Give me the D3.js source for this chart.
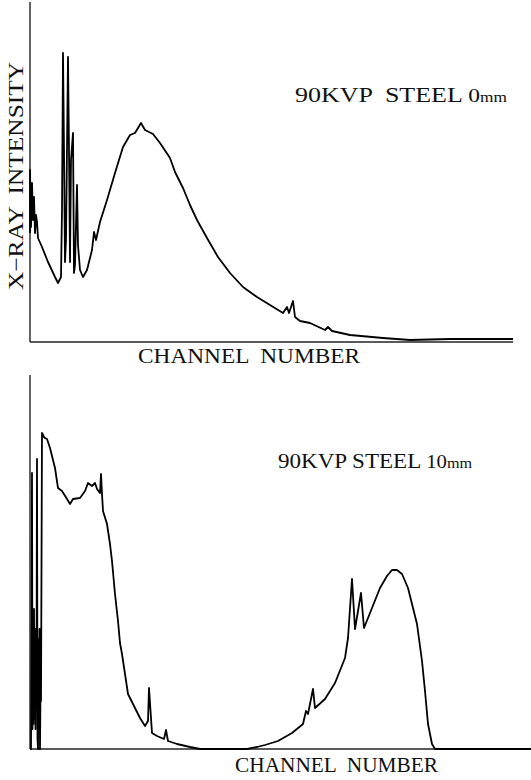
<!DOCTYPE html>
<html>
<head>
<meta charset="utf-8">
<script src="https://cdn.jsdelivr.net/npm/d3@7"></script>
<style>
  body { margin: 0; background: #fff; }
  svg { display: block; }
  text { font-family: "Liberation Serif", "DejaVu Serif", serif; fill: #111; white-space: pre; }
</style>
</head>
<body>
<script>
///////////////////   Data   /////////////////

// spectrum 1 : 90 kVp, no steel filter  (channel, intensity)
var channels0mm = [0,0,1,2,3,4,5,6,7,8,12,18,25,28,31,32,33,34,35,36,38,39,40,41,43,44,45,47,48,50,53,57,62,64,66,70,77,85,93,100,105,111,115,123,130,140,145,153,160,167,177,188,200,213,227,240,253,257,259,263,265,270,280,295,298,302,320,353,380,420,483];
var counts0mm   = [109,172,115,159,122,145,109,127,120,104,95,80,65,59,65,132,289,192,80,102,285,192,80,182,209,69,77,157,97,72,65,72,92,110,102,120,142,169,195,207,209,219,212,208,199,184,170,154,137,122,104,85,69,55,45,37,29,35,29,41,25,21,19,12,15,11,7,4,2,3,3];

// spectrum 2 : 90 kVp, 10 mm steel (dense pile-up spikes at the low channels)
var channels10mm = [0,1,2,2.5,3,3.5,4,4.5,5,5.5,6,6.5,7,7.5,8,8.5,9,9.5,10,10.5,11,12,14,15,17,20,25,28,32,37,40,43,50,55,58,62,65,67,70,71,72,73,77,80,82,85,88,90,92,95,98,103,110,115,118,119,122,127,134,136,138,147,160,170,203,217,227,235,248,262,273,276,278,283,285,295,305,315,318,322,325,331,334,342,350,357,362,367,372,378,387,392,395,398,402,405,435,501];
var counts10mm   = [0,0,276,20,130,25,140,30,120,20,108,60,290,10,0,110,30,120,0,60,48,316,312,311,310,301,281,261,258,250,245,250,251,258,266,263,266,260,256,275,255,238,225,205,188,155,128,106,95,75,55,45,31,23,28,61,16,13,10,19,8,5,2,0,0,0,2,4,8,16,25,38,35,60,41,50,66,91,111,170,120,156,121,141,161,173,179,179,175,161,125,88,58,25,5,0,0,0];

var yLabel = "X\u2212RAY  INTENSITY",
    xLabel = "CHANNEL  NUMBER";

var titles = [["90KVP  STEEL ", "0", "mm"], ["90KVP STEEL ", "10", "mm"]];


///////////////////   Layout   /////////////////

var width = 531, height = 780;

// one entry per panel : axis origin, axis ends, label positions
var panels = [
	{ x0:30, x1:513, yBase:342, yTop:2,   maxCh:483, maxI:340,
	  ch:channels0mm, val:counts0mm,
	  xLab:[138,363,222], title:[295,102,212,[21,19,14]] },
	{ x0:30, x1:531, yBase:749, yTop:375, maxCh:501, maxI:374,
	  ch:channels10mm, val:counts10mm,
	  xLab:[235,772,203], title:[278,468,194,[20,18,14]] }
];


////////////////	Main rendering      //////////////

var svg = d3.select("body").append("svg")
	.attr("width", width)
	.attr("height", height);

panels.forEach(function(p, k){
	var x = d3.scaleLinear().domain([0, p.maxCh]).range([p.x0, p.x1]),
	    y = d3.scaleLinear().domain([0, p.maxI]).range([p.yBase, p.yTop]);

	var g = svg.append("g");

	// axes, drawn as bare lines (no ticks in the original)
	g.append("line")
		.attr("x1", x(0)).attr("x2", x(p.maxCh))
		.attr("y1", y(0)).attr("y2", y(0))
		.attr("stroke", "#222").attr("stroke-width", 1.4);
	g.append("line")
		.attr("x1", x(0)).attr("x2", x(0))
		.attr("y1", y(0)).attr("y2", y(p.maxI))
		.attr("stroke", "#222").attr("stroke-width", 1.4);

	// spectrum
	var pts = p.ch.map(function(c, i){ return [c, p.val[i]]; });
	var line = d3.line()
		.x(function(d){ return x(d[0]); })
		.y(function(d){ return y(d[1]); });

	g.append("path")
		.datum(pts)
		.attr("d", line)
		.attr("fill", "none")
		.attr("stroke", "#000")
		.attr("stroke-width", 1.8)
		.attr("stroke-linejoin", "round");

	// x label
	g.append("text")
		.attr("x", p.xLab[0]).attr("y", p.xLab[1])
		.attr("font-size", 21)
		.attr("textLength", p.xLab[2])
		.attr("lengthAdjust", "spacingAndGlyphs")
		.text(xLabel);

	// title with small "mm"
	var t = g.append("text")
		.attr("x", p.title[0]).attr("y", p.title[1])
		.attr("textLength", p.title[2])
		.attr("lengthAdjust", "spacingAndGlyphs");
	titles[k].forEach(function(s, j){
		t.append("tspan").attr("font-size", p.title[3][j]).text(s);
	});
});

// y label, only on the upper panel
svg.append("text")
	.attr("transform", "translate(23,290) rotate(-90)")
	.attr("font-size", 21)
	.attr("textLength", 228)
	.attr("lengthAdjust", "spacingAndGlyphs")
	.text(yLabel);
</script>
</body>
</html>
